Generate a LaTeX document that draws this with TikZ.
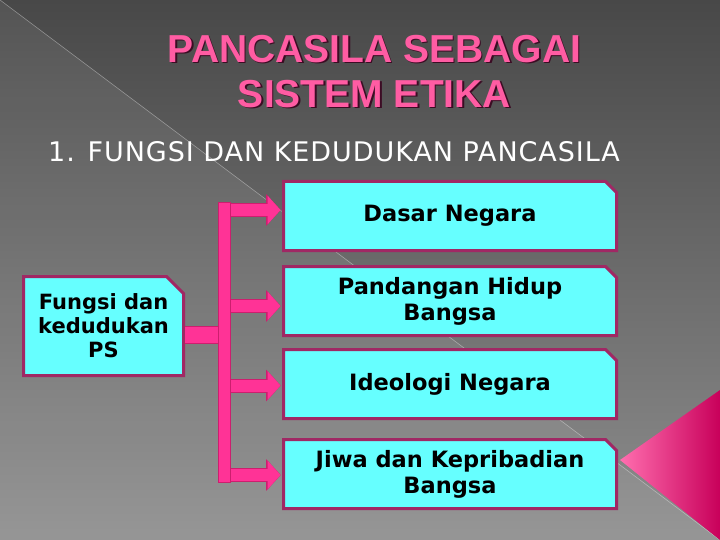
\documentclass[tikz,border=0pt]{standalone}
\usepackage{fontspec}
\setmainfont{DejaVu Sans}
\newfontfamily\titlefont{Liberation Sans}
\newfontfamily\subfont{DejaVu Sans}[LetterSpace=3.5]
\usepackage{xcolor}
\usepackage{tikz}
\definecolor{slideDark}{RGB}{72, 72, 72}
\definecolor{slideLight}{RGB}{142, 142, 142}
\definecolor{titlePink}{RGB}{255, 92, 163}
\definecolor{shadowMaroon}{RGB}{60, 12, 36}
\definecolor{boxCyan}{RGB}{102, 255, 255}
\definecolor{boxBorder}{RGB}{160, 40, 100}
\definecolor{barPink}{RGB}{255, 51, 150}
\definecolor{barEdge}{RGB}{205, 30, 110}
\definecolor{wedgeLight}{RGB}{255, 110, 175}
\definecolor{wedgeDark}{RGB}{200, 0, 90}
\usetikzlibrary{shapes.misc, arrows.meta, positioning}

\begin{document}
\begin{tikzpicture}[
    x=1pt, y=-1pt,
    heading/.style={font=\titlefont\bfseries\fontsize{39}{45}\selectfont, align=center, inner sep=0pt},
    item/.style={chamfered rectangle, chamfered rectangle corners=north east, chamfered rectangle sep=#1,
        draw=boxBorder, line width=3pt, fill=boxCyan, align=center, inner sep=0pt,
        font=\bfseries\fontsize{22.5}{26}\selectfont, minimum width=333pt, minimum height=69pt},
    item/.default=5.5pt,
    busbar/.style={rectangle, draw=barEdge, line width=1pt, fill=barPink, inner sep=0pt, minimum width=12pt, minimum height=280pt},
    bar/.style={draw=barPink, line width=12pt, preaction={draw=barEdge, line width=14pt}},
    barhead/.style={bar, -{Triangle[length=13pt, width=28pt]},
        preaction={draw=barEdge, line width=14pt, -{Triangle[length=14.5pt, width=31pt]}}}
]
    % Background
    \useasboundingbox (0,0) rectangle (720,540);
    \shade[top color=slideDark, bottom color=slideLight] (0,0) rectangle (720,540);
    \fill[white, opacity=0.07] (0,0) -- (720,540) -- (0,540) -- cycle;
    \draw[white, opacity=0.35, line width=0.6pt] (0,0) -- (720,540);
    \shade[left color=wedgeLight, right color=wedgeDark] (620,460) -- (720,390) -- (720,540) -- cycle;

    % Titles
    \node[heading, text=shadowMaroon] (titleshadow) at (376,73) {PANCASILA SEBAGAI\\SISTEM ETIKA};
    \node[heading, text=titlePink] (title) at (374.5,71.5) {PANCASILA SEBAGAI\\SISTEM ETIKA};
    \node[anchor=base west, inner sep=0pt, text=white, font=\subfont\fontsize{27}{30}\selectfont] (sub) at (48,162) {1. FUNGSI DAN KEDUDUKAN PANCASILA};

    % Boxes
    \node[item=8.5pt, minimum width=160pt, minimum height=99pt, font=\bfseries\fontsize{21}{24}\selectfont] (ps) at (103.5,326) {Fungsi dan\\kedudukan\\PS};
    \node[item] (dasar) at (450,216) {Dasar Negara};
    \node[item, below=13pt of dasar] (pandangan) {Pandangan Hidup\\Bangsa};
    \node[item, below=11pt of pandangan] (ideologi) {Ideologi Negara};
    \node[item, below=18pt of ideologi] (jiwa) {Jiwa dan Kepribadian\\Bangsa};
    \node[busbar] (bus) at (224.5,342.5) {};

    % Connections
    \draw[bar, line width=16pt, preaction={draw=barEdge, line width=18pt}] ([yshift=-9pt]ps.east) -- ([yshift=-9pt]bus.west |- ps.east);
    \foreach \target/\dy in {dasar/6, pandangan/-5, ideologi/-1.5, jiwa/-1}
        \draw[barhead] ([yshift=\dy pt]bus.east |- \target.west) -- ([yshift=\dy pt, xshift=-1.5pt]\target.west);
\end{tikzpicture}
\end{document}
